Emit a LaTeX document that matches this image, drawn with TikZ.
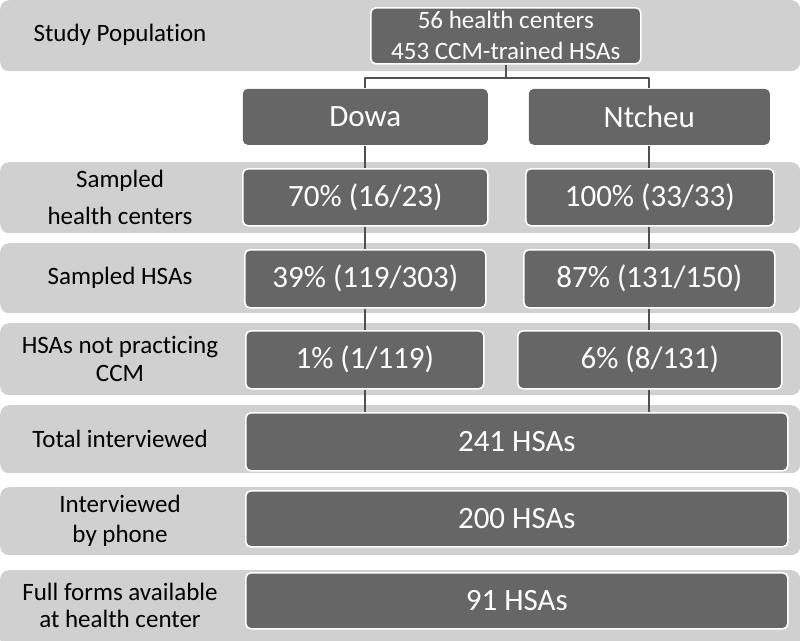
\documentclass[tikz,border=0pt]{standalone}
\usepackage{fontspec}
\setmainfont{Carlito}[Ligatures=NoCommon]
\usetikzlibrary{calc}

\definecolor{bandgray}{RGB}{208,208,208}
\definecolor{boxgray}{RGB}{102,102,102}
\definecolor{linegray}{RGB}{80,80,80}

\begin{document}
\begin{tikzpicture}[x=1pt,y=-1pt,line join=round,
  band/.style={fill=bandgray,rounded corners=9pt,inner sep=0pt,anchor=north west,minimum width=800pt},
  rowlabel/.style={align=center,text=black,font=\fontsize{25}{30}\selectfont},
  box/.style={fill=boxgray,draw=white,line width=1.6pt,rounded corners=5pt,inner sep=0pt,
    anchor=north west,text=white,align=center,font=\fontsize{31}{36}\selectfont},
  conn/.style={draw=linegray,line width=2pt}]
  \useasboundingbox (0,0) rectangle (800,640);

  % --- grey row bands ---
  \node[band,minimum height=71pt] (b1) at (0,0)   {};
  \node[band,minimum height=71pt] (b2) at (0,162) {};
  \node[band,minimum height=70pt] (b3) at (0,243) {};
  \node[band,minimum height=72pt] (b4) at (0,323) {};
  \node[band,minimum height=68pt] (b5) at (0,405) {};
  \node[band,minimum height=68pt] (b6) at (0,487) {};
  \node[band,minimum height=78pt] (b7) at (0,570) {};

  % --- row labels ---
  \node[rowlabel] (l1) at (120,35)  {Study Population};
  \node[rowlabel] (l2) at (120,197) {Sampled\\[7pt]health centers};
  \node[rowlabel] (l3) at (120,278) {Sampled HSAs};
  \node[rowlabel] (l4) at (120,359) {HSAs not practicing\\[-2pt]CCM};
  \node[rowlabel] (l5) at (120,439) {Total interviewed};
  \node[rowlabel] (l6) at (120,521) {Interviewed\\by phone};
  \node[rowlabel] (l7) at (120,605) {Full forms available\\[-3pt]at health center};

  % --- population and districts ---
  \node[box,minimum width=270pt,minimum height=56pt,font=\fontsize{25}{31}\selectfont] (top) at (370,7)
    {56 health centers\\453 CCM-trained HSAs};
  \node[box,draw=none,minimum width=245pt,minimum height=56pt] (dowa)   at (242,88) {Dowa};
  \node[box,draw=none,minimum width=241pt,minimum height=56pt] (ntcheu) at (528,88) {Ntcheu};

  % --- per-district counts ---
  \node[box,minimum width=245pt,minimum height=57pt] (d1) at (242,168) {70\% (16/23)};
  \node[box,minimum width=248pt,minimum height=57pt] (n1) at (525,168) {100\% (33/33)};
  \node[box,minimum width=241pt,minimum height=58pt] (d2) at (244,249) {39\% (119/303)};
  \node[box,minimum width=251pt,minimum height=58pt] (n2) at (523,249) {87\% (131/150)};
  \node[box,minimum width=238pt,minimum height=58pt] (d3) at (245,330) {1\% (1/119)};
  \node[box,minimum width=264pt,minimum height=58pt] (n3) at (517,330) {6\% (8/131)};

  % --- totals ---
  \node[box,minimum width=542pt,minimum height=58pt] (all1) at (245,412) {241 HSAs};
  \node[box,minimum width=542pt,minimum height=56pt] (all2) at (245,490) {200 HSAs};
  \node[box,minimum width=542pt,minimum height=56pt] (all3) at (245,572) {91 HSAs};

  % --- connectors ---
  \draw[conn] (top.south) -- ++(0,13) -| (dowa.north);
  \draw[conn] (top.south) ++(0,13) -| (ntcheu.north);
  \foreach \a/\b in {dowa/d1,d1/d2,d2/d3,d3/all1}
    \draw[conn] (\a.south -| dowa) -- (\b.north -| dowa);
  \foreach \a/\b in {ntcheu/n1,n1/n2,n2/n3,n3/all1}
    \draw[conn] (\a.south -| ntcheu) -- (\b.north -| ntcheu);
\end{tikzpicture}
\end{document}
